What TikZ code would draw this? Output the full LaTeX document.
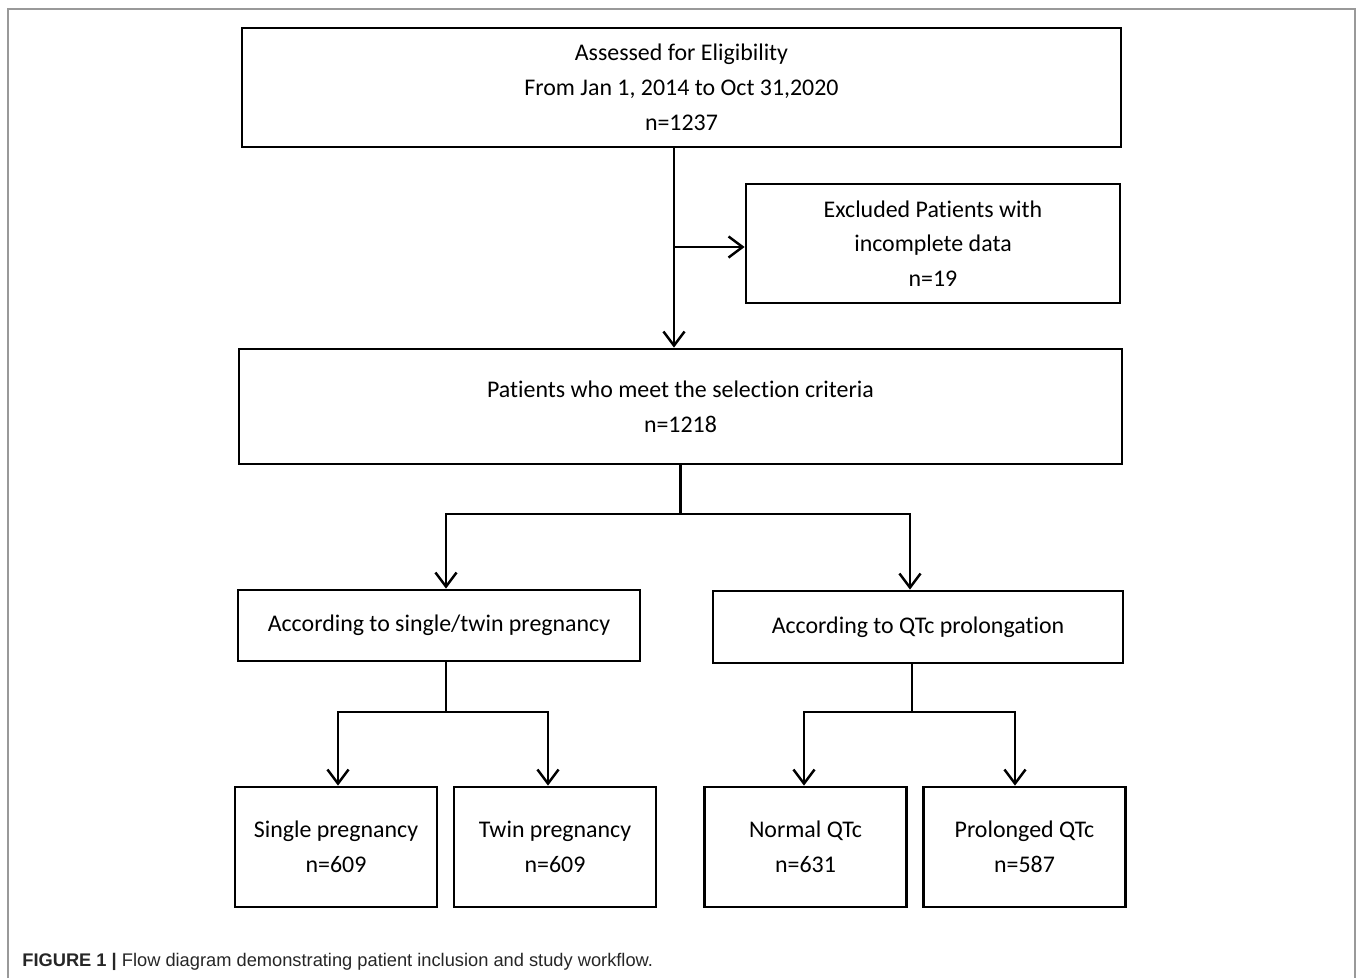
\documentclass[tikz,border=0pt]{standalone}
\usepackage{fontspec}
\setmainfont{Carlito}[Ligatures=CommonOff]
\newfontfamily\capfont{Liberation Sans}
\usetikzlibrary{arrows.meta}

\begin{document}
\begin{tikzpicture}[x=0.02cm,y=-0.02cm,
  box/.style={draw,line width=1.6pt,align=center,inner sep=0pt,font=\fontsize{13.6}{19.8}\selectfont},
  link/.style={line width=1.6pt},
  arr/.style={link,-{Straight Barb[length=8pt,width=12pt,line width=1.4pt]}}]
\useasboundingbox (0,0) rectangle (1357,978);
\draw[gray!80,line width=1pt](8,978)--(8,9)--(1355,9)--(1355,978);

\node[box,minimum width=17.58cm,minimum height=2.38cm](assess)at(681.5,87.5){Assessed for Eligibility\\From Jan 1, 2014 to Oct 31,2020\\n=1237};
\node[box,minimum width=7.48cm,minimum height=2.38cm](excl)at(933,243.5){Excluded Patients with\\incomplete data\\n=19};
\node[box,minimum width=17.66cm,minimum height=2.3cm](sel)at(680.5,406.5){Patients who meet the selection criteria\\n=1218};
\node[box,minimum width=8.04cm,minimum height=1.42cm](grpA)at(439,625.5){According to single/twin pregnancy};
\node[box,minimum width=8.2cm,minimum height=1.44cm](grpB)at(918,627){According to QTc prolongation};
\node[box,minimum width=4.04cm,minimum height=2.4cm](single)at(336,847){Single pregnancy\\n=609};
\node[box,minimum width=4.04cm,minimum height=2.4cm](twin)at(555,847){Twin pregnancy\\n=609};
\node[box,minimum width=4.04cm,minimum height=2.4cm](normal)at(805.5,847){Normal QTc\\n=631};
\node[box,minimum width=4.04cm,minimum height=2.4cm](prolong)at(1024.5,847){Prolonged QTc\\n=587};

\coordinate(split)at(674,247);
\draw[arr](assess.south-|split)--(sel.north-|split);
\draw[arr](split)--(excl.west|-split);

\coordinate(forkA)at(446,514);
\coordinate(forkB)at(910,514);
\draw[link](sel.south)--(sel.south|-forkA);
\draw[arr](sel.south|-forkA)-|(grpA.north-|forkA);
\draw[arr](sel.south|-forkA)-|(grpB.north-|forkB);

\coordinate(forkC)at(338,712);
\coordinate(forkD)at(548,712);
\draw[link](grpA.south-|forkA)--(forkA|-forkC);
\draw[arr](forkA|-forkC)-|(single.north-|forkC);
\draw[arr](forkA|-forkC)-|(twin.north-|forkD);

\coordinate(forkE)at(804,712);
\coordinate(forkF)at(1015,712);
\draw[link](grpB.south-|912,0)--(912,712);
\draw[arr](912,712)-|(normal.north-|forkE);
\draw[arr](912,712)-|(prolong.north-|forkF);

\node[anchor=west,inner sep=0pt,font=\capfont\fontsize{10.4}{12}\selectfont,text=black!85](cap)at(22,962){\textbf{FIGURE 1 |} Flow diagram demonstrating patient inclusion and study workflow.};
\end{tikzpicture}
\end{document}
